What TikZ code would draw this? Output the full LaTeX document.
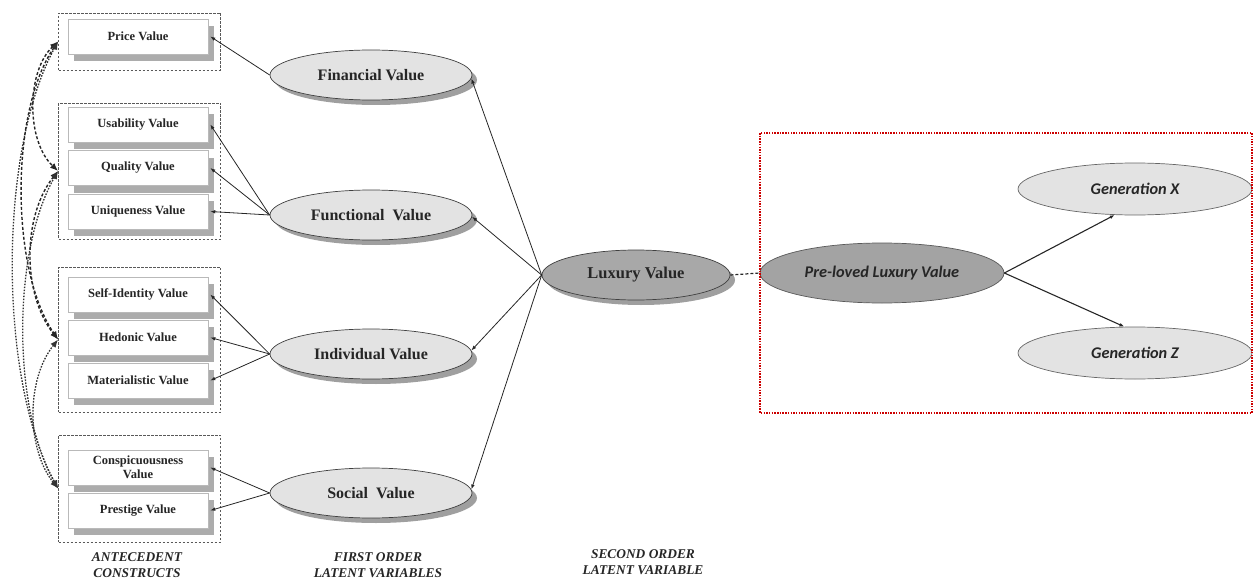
\documentclass[tikz,border=0pt]{standalone}
\usepackage{fontspec}
\setmainfont{Liberation Serif}
\newfontfamily\calfont{Carlito}
\usetikzlibrary{shapes.geometric,shadows,arrows.meta}

\tikzset{
  itembox/.style={draw=gray!55, line width=0.6pt, fill=white,
    minimum width=140pt, minimum height=35pt, inner sep=1pt, align=center,
    font=\bfseries\fontsize{12.5}{14}\selectfont, text=black!85,
    general shadow={fill=gray!65, shadow xshift=6pt, shadow yshift=-7pt}},
  groupbox/.style={draw=black!65, line width=0.8pt, dash pattern=on 2.5pt off 1.5pt,
    minimum width=162pt, inner sep=0pt},
  firstorder/.style={ellipse, draw=black!75, line width=0.7pt, fill=gray!22,
    minimum width=202pt, minimum height=50pt, inner sep=0pt,
    font=\bfseries\fontsize{16}{18}\selectfont, text=black!85,
    general shadow={fill=gray!75, shadow xshift=5pt, shadow yshift=-5pt}},
  secondorder/.style={firstorder, fill=gray!68, minimum width=188pt,
    font=\bfseries\fontsize{16.5}{18}\selectfont},
  genellipse/.style={ellipse, draw=black!60, line width=0.7pt, fill=gray!22,
    minimum width=234pt, minimum height=52pt, inner sep=0pt,
    font=\calfont\bfseries\itshape\fontsize{16.3}{18}\selectfont, text=black!85},
  link/.style={line width=0.8pt, black!85, -{Latex[length=5pt,width=3.6pt]}},
  corr/.style={line width=1.4pt, black!85, dash pattern=on 3pt off 2pt,
    {Latex[length=8pt,width=6.5pt]}-{Latex[length=8pt,width=6.5pt]}},
  corrlight/.style={corr, black!80, line width=1.3pt, dash pattern=on 1.6pt off 1.4pt},
  caption/.style={align=center, font=\bfseries\itshape\fontsize{13.4}{15.5}\selectfont, text=black!85}
}

\begin{document}
\begin{tikzpicture}[x=1pt,y=-1pt]
\useasboundingbox (0,0) rectangle (1254,578);

% antecedent groups (dashed frames)
\node[groupbox, minimum height=57pt]  (gfin) at (139.5,41.5) {};
\node[groupbox, minimum height=136pt] (gfun) at (139.5,171) {};
\node[groupbox, minimum height=145pt] (gind) at (139.5,339.5) {};
\node[groupbox, minimum height=107pt] (gsoc) at (139.5,488.5) {};

% antecedent constructs
\node[itembox] (price) at (138,36.5)  {Price Value};
\node[itembox] (usab)  at (138,124.5) {Usability Value};
\node[itembox] (qual)  at (138,168)   {Quality Value};
\node[itembox] (uniq)  at (138,211.5) {Uniqueness Value};
\node[itembox] (self)  at (138,294.5) {Self-Identity Value};
\node[itembox] (hedo)  at (138,337.5) {Hedonic Value};
\node[itembox] (mate)  at (138,380.5) {Materialistic Value};
\node[itembox] (consp) at (138,467.5) {Conspicuousness\\Value};
\node[itembox] (prest) at (138,510.5) {Prestige Value};

% first order latent variables
\node[firstorder] (fin) at (371,75)  {Financial Value};
\node[firstorder] (fun) at (371,215) {Functional\ \ Value};
\node[firstorder] (ind) at (371,354) {Individual Value};
\node[firstorder] (soc) at (371,493) {Social\ \ Value};

% second order latent variable
\node[secondorder] (lux) at (636,275) {Luxury Value};

% pre-loved luxury model
\node[genellipse, fill=gray!72, draw=black!65, minimum width=244pt, minimum height=60pt] (pre) at (882,273) {Pre-loved Luxury Value};
\node[genellipse] (genx) at (1135,189) {Generation X};
\node[genellipse] (genz) at (1135,353) {Generation Z};
\draw[draw=red!80!black, line width=1.6pt, dash pattern=on 1.5pt off 1.2pt] (760,133) rectangle (1252,413);

% second order -> first order
\draw[link] (lux.west) -- (fin.-2.3);
\draw[link] (lux.west) -- (fun.-1);
\draw[link] (lux.west) -- (ind.2.3);
\draw[link] (lux.west) -- (soc.2.8);

% first order -> antecedents
\draw[link] (fin.west) -- ([xshift=2pt]price.east);
\draw[link] (fun.west) -- ([xshift=2pt]usab.east);
\draw[link] (fun.west) -- ([xshift=2pt]qual.east);
\draw[link] (fun.west) -- ([xshift=2pt]uniq.east);
\draw[link] (ind.west) -- ([xshift=2pt]self.east);
\draw[link] (ind.west) -- ([xshift=2pt]hedo.east);
\draw[link] (ind.west) -- ([xshift=2pt]mate.east);
\draw[link] (soc.west) -- ([xshift=2pt]consp.east);
\draw[link] (soc.west) -- ([xshift=2pt]prest.east);

% luxury value -- pre-loved luxury value
\draw[line width=1.2pt, black!85, dash pattern=on 3pt off 2pt] (lux.east) -- (pre.west);
\draw[link, line width=1.1pt] (pre.east) -- (genx.-128);
\draw[link, line width=1.1pt] (pre.east) -- (genz.112);

% correlations between antecedent groups
\draw[corr] (gfin.west) .. controls +(-32,30) and +(-32,-30) .. (gfun.west);
\draw[corr] (gfun.west) .. controls +(-36,45) and +(-36,-45) .. (gind.west);
\draw[corrlight] (gind.west) .. controls +(-32,40) and +(-32,-40) .. (gsoc.west);
\draw[corr] (gfin.west) .. controls +(-48,70) and +(-48,-70) .. (gind.west);
\draw[corrlight] (gfun.west) .. controls +(-46,80) and +(-46,-80) .. (gsoc.west);
\draw[corrlight] (gfin.west) .. controls +(-60,110) and +(-60,-110) .. (gsoc.west);

% column captions
\node[caption] (capa) at (137,565) {ANTECEDENT\\CONSTRUCTS};
\node[caption] (capf) at (378,565) {FIRST ORDER\\LATENT VARIABLES};
\node[caption] (caps) at (643,562) {SECOND ORDER\\LATENT VARIABLE};
\end{tikzpicture}
\end{document}
